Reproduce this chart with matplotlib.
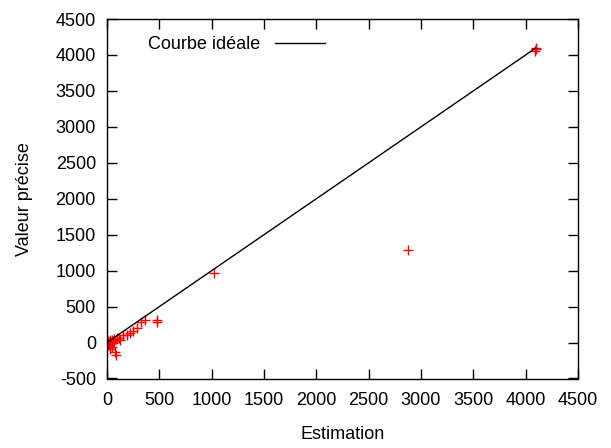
import matplotlib
matplotlib.use("Agg")
import matplotlib.pyplot as plt
import numpy as np

# estimation vs precise value
est = [4, 8, 12, 15, 20, 25, 30, 35, 40, 45, 50, 55, 60, 65, 70, 77, 86, 95,
       110, 125, 156, 190, 220, 252, 290, 326, 364, 476, 480,
       1020, 2876, 4090, 4095, 4100]
prec = [0, 20, -18, 10, -40, 30, -90, 5, -10, 40, -60, 15, 0, 50, 20, -135, -170, 60,
        70, 35, 105, 110, 135, 157, 200, 290, 315, 283, 310,
        962, 1290, 4060, 4080, 4090]

ideal_x = [0, 4096]
ideal_y = [0, 4096]

xticks = np.arange(0, 4501, 500)
yticks = np.arange(-500, 4501, 500)

plt.rcParams['font.family'] = ['Liberation Sans', 'DejaVu Sans']
plt.rcParams['axes.unicode_minus'] = False

fig = plt.figure(figsize=(6.11, 4.48), dpi=100)
ax = fig.add_axes([107/611, 1-378.5/448, 471/611, 359.5/448])

ax.plot(est, prec, linestyle='none', marker='+', color='red', markersize=6.5, markeredgewidth=1)
ax.plot(ideal_x, ideal_y, color='black', linewidth=1, label='Courbe idéale')

ax.set_xlim(0, 4500)
ax.set_ylim(-500, 4500)
ax.set_xticks(xticks)
ax.set_yticks(yticks)
ax.tick_params(direction='in', length=7, width=1, top=True, right=True, labelsize=13)
ax.tick_params(axis='x', pad=10)
ax.tick_params(axis='y', pad=8)
for s in ax.spines.values():
    s.set_linewidth(1)

ax.set_xlabel('Estimation', fontsize=13, labelpad=12)
ax.set_ylabel('Valeur précise', fontsize=13, labelpad=16)

ax.legend(loc='upper left', frameon=False, markerfirst=False, handlelength=2.8,
          handletextpad=0.8, borderpad=0, borderaxespad=0,
          bbox_to_anchor=(0.087, 0.953), fontsize=13)

fig.savefig('out.png', dpi=100)
